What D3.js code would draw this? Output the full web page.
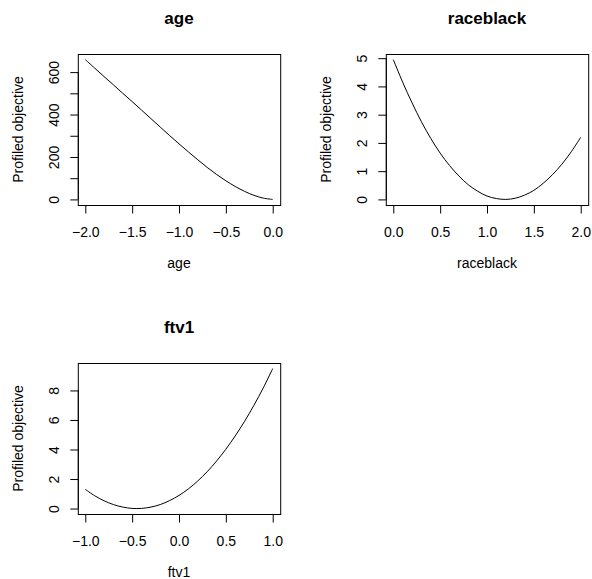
<!DOCTYPE html>
<html>
<head>
<meta charset="utf-8">
<script src="https://cdn.jsdelivr.net/npm/d3@7"></script>
<style>
  html, body { margin: 0; padding: 0; background: #fff; }
  svg { display: block; }
  text { font-family: "Liberation Sans", Arial, Helvetica, sans-serif; fill: #000; }
</style>
</head>
<body>
<svg id="chart" width="592" height="579"></svg>
<script>
// ---- Data ----
const panelTitles = ["age", "raceblack", "ftv1"];

const ageX = [-2.0, -1.9, -1.8, -1.7, -1.6, -1.5, -1.4, -1.3, -1.2, -1.1, -1.0,
              -0.9, -0.8, -0.7, -0.6, -0.5, -0.4, -0.3, -0.2, -0.1, 0.0];
const ageY = [659, 619, 579, 540, 500, 461, 421, 381, 341, 301, 262,
              224, 187, 151, 118, 88, 61, 38, 19, 6, 0];

const raceX = [0.0, 0.1, 0.2, 0.3, 0.4, 0.5, 0.6, 0.7, 0.8, 0.9, 1.0,
               1.1, 1.2, 1.3, 1.4, 1.5, 1.6, 1.7, 1.8, 1.9, 2.0];
const raceY = [4.95, 4.15, 3.42, 2.75, 2.16, 1.64, 1.20, 0.83, 0.52, 0.29, 0.12,
               0.03, 0.00, 0.04, 0.15, 0.32, 0.57, 0.88, 1.25, 1.69, 2.20];

const ftvX = [-1.0, -0.9, -0.8, -0.7, -0.6, -0.5, -0.4, -0.3, -0.2, -0.1, 0.0,
              0.1, 0.2, 0.3, 0.4, 0.5, 0.6, 0.7, 0.8, 0.9, 1.0];
const ftvY = [1.30, 0.87, 0.53, 0.27, 0.10, 0.01, 0.01, 0.10, 0.27, 0.54, 0.89,
              1.33, 1.87, 2.49, 3.21, 4.02, 4.92, 5.91, 7.00, 8.18, 9.48];

const ageXTicks = [-2.0, -1.5, -1.0, -0.5, 0.0];
const ageYTicks = [0, 100, 200, 300, 400, 500, 600];
const ageYLabels = ["0", "", "200", "", "400", "", "600"];

const raceXTicks = [0.0, 0.5, 1.0, 1.5, 2.0];
const raceYTicks = [0, 1, 2, 3, 4, 5];
const raceYLabels = ["0", "1", "2", "3", "4", "5"];

const ftvXTicks = [-1.0, -0.5, 0.0, 0.5, 1.0];
const ftvYTicks = [0, 2, 4, 6, 8];
const ftvYLabels = ["0", "2", "4", "6", "8"];

const yAxisTitle = "Profiled objective";

// ---- Layout ----
const svg = d3.select("#chart");
const plotW = 202.4, plotH = 151;
const baseLeft = 77.8, baseTop = 54;
const colStep = 308, rowStep = 309;

const panels = [
  { title: panelTitles[0], xs: ageX, ys: ageY, xt: ageXTicks, yt: ageYTicks, yl: ageYLabels, row: 0, col: 0 },
  { title: panelTitles[1], xs: raceX, ys: raceY, xt: raceXTicks, yt: raceYTicks, yl: raceYLabels, row: 0, col: 1 },
  { title: panelTitles[2], xs: ftvX, ys: ftvY, xt: ftvXTicks, yt: ftvYTicks, yl: ftvYLabels, row: 1, col: 0 }
];

const fmt = d3.format(".1f");

panels.forEach(p => {
  const left = baseLeft + p.col * colStep;
  const top = baseTop + p.row * rowStep;
  const g = svg.append("g").attr("transform", `translate(${left},${top})`);

  const [x0, x1] = d3.extent(p.xs);
  const [y0, y1] = d3.extent(p.ys);
  const dx = (x1 - x0) * 0.04, dy = (y1 - y0) * 0.04;
  const x = d3.scaleLinear().domain([x0 - dx, x1 + dx]).range([0, plotW]);
  const y = d3.scaleLinear().domain([y0 - dy, y1 + dy]).range([plotH, 0]);

  // curve
  const line = d3.line().x((d, i) => x(p.xs[i])).y((d, i) => y(p.ys[i])).curve(d3.curveCatmullRom.alpha(0.5));
  g.append("path").datum(p.xs).attr("d", line)
    .attr("fill", "none").attr("stroke", "#000").attr("stroke-width", 1);

  // box
  g.append("rect").attr("x", 0.5).attr("y", 0.5).attr("width", plotW).attr("height", plotH)
    .attr("fill", "none").attr("stroke", "#000").attr("stroke-width", 1);

  // x axis
  const xAxis = d3.axisBottom(x).tickValues(p.xt).tickFormat(fmt).tickSize(8).tickPadding(6);
  const gx = g.append("g").attr("transform", `translate(0,${plotH + 0.5})`).call(xAxis);
  gx.select(".domain").attr("d", `M${x(p.xt[0])},0H${x(p.xt[p.xt.length - 1])}`).attr("stroke", "#000");
  gx.selectAll(".tick line").attr("stroke", "#000");
  gx.selectAll(".tick text").attr("font-size", 14).attr("font-family", "Liberation Sans, Arial, sans-serif")
    .attr("fill", "#000").attr("y", 27).attr("dy", "0.32em");

  // y axis
  const yAxis = d3.axisLeft(y).tickValues(p.yt).tickFormat((d, i) => p.yl[i]).tickSize(8);
  const gy = g.append("g").attr("transform", `translate(0.5,0)`).call(yAxis);
  gy.select(".domain").attr("d", `M0,${y(p.yt[0])}V${y(p.yt[p.yt.length - 1])}`).attr("stroke", "#000");
  gy.selectAll(".tick line").attr("stroke", "#000");
  gy.selectAll(".tick text")
    .attr("font-size", 14).attr("font-family", "Liberation Sans, Arial, sans-serif").attr("fill", "#000")
    .attr("x", null).attr("dy", null)
    .attr("text-anchor", "middle")
    .attr("transform", "translate(-19.5,0) rotate(-90)");

  // title
  g.append("text").attr("x", plotW / 2).attr("y", -30.5)
    .attr("text-anchor", "middle").attr("font-size", 17).attr("font-weight", "bold")
    .text(p.title);

  // x-axis title
  g.append("text").attr("x", plotW / 2).attr("y", plotH + 62.5)
    .attr("text-anchor", "middle").attr("font-size", 14)
    .text(p.title);

  // y-axis title
  g.append("text").attr("transform", `translate(-54.5,${plotH / 2}) rotate(-90)`)
    .attr("text-anchor", "middle").attr("font-size", 14)
    .text(yAxisTitle);
});
</script>
</body>
</html>
